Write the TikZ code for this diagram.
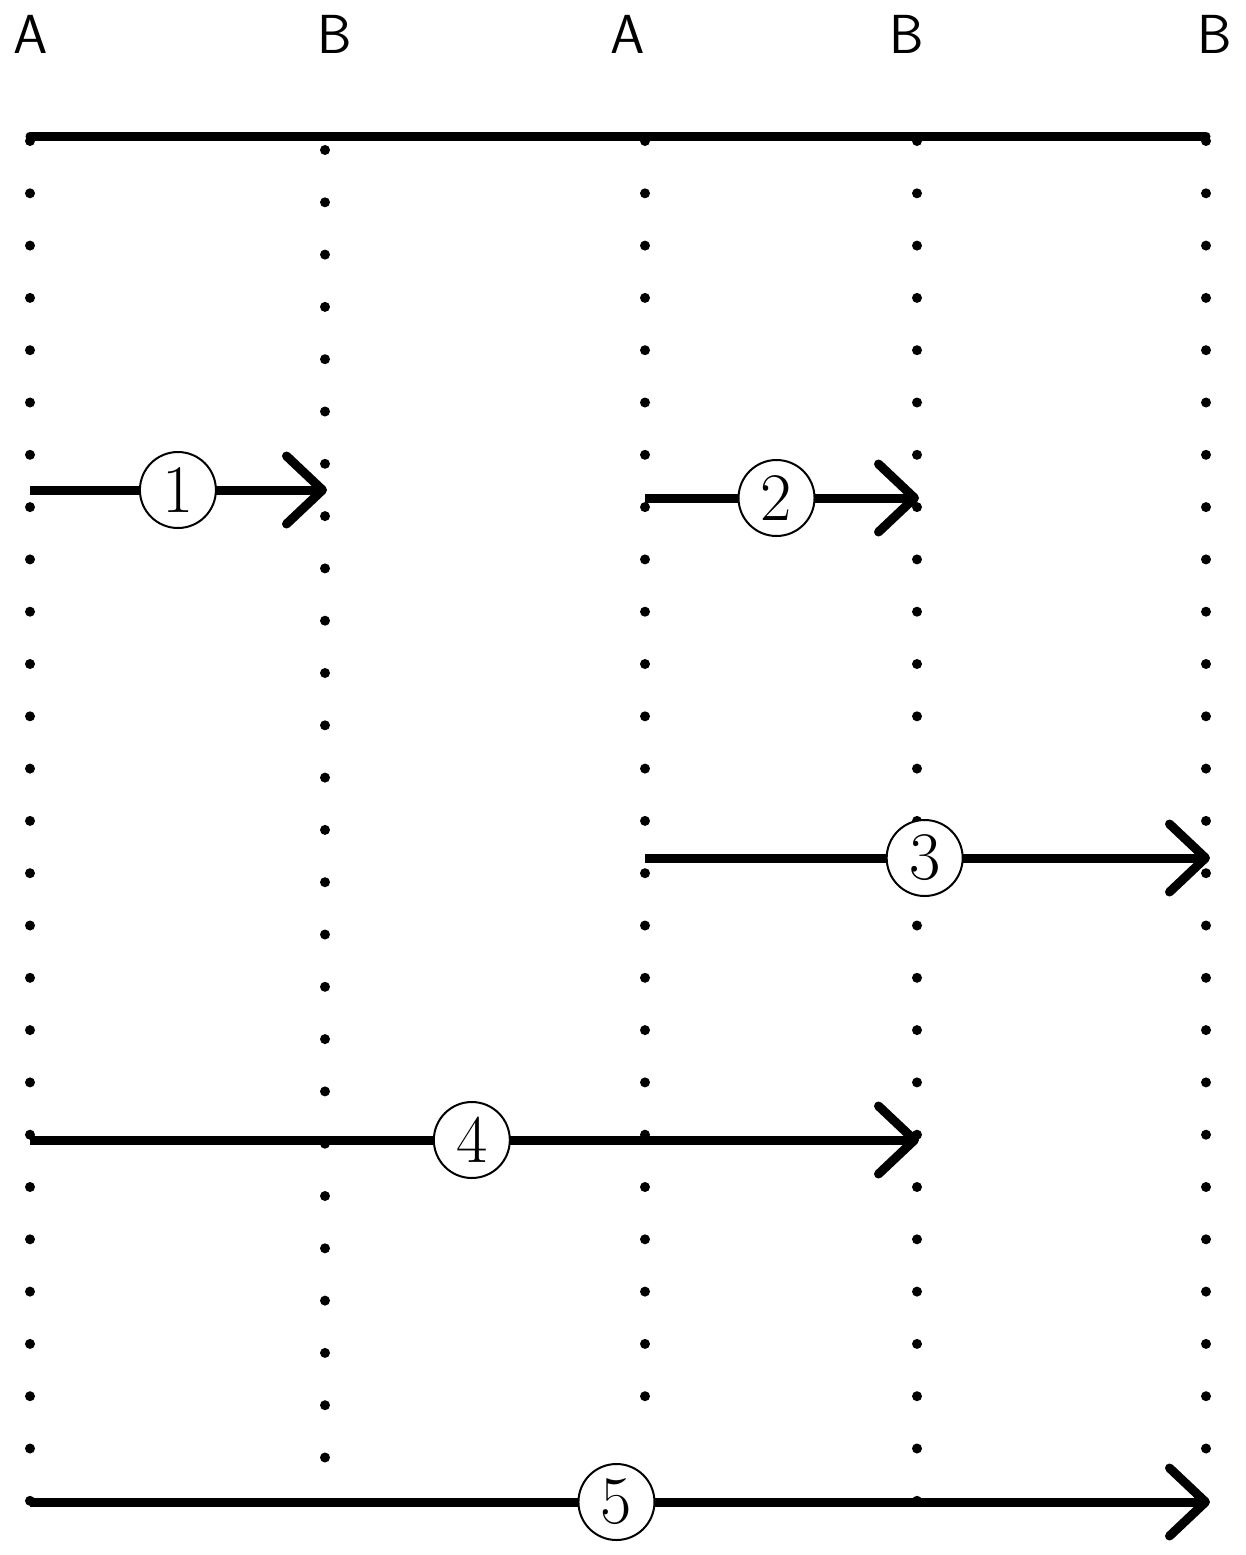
\documentclass[tikz,border=0pt]{standalone}
\usepackage{fontspec}
\usetikzlibrary{arrows.meta}
\begin{document}
\begin{tikzpicture}[x=1pt,y=-1pt,
  lab/.style={font=\sffamily\fontsize{55}{55}\selectfont, inner sep=0pt},
  num/.style={circle, draw, fill=white, line width=2pt, minimum size=76pt, inner sep=0pt,
              font=\fontsize{68}{68}\selectfont},
  heavy/.style={line width=9pt},
  arr/.style={heavy, -{Straight Barb[length=36pt,width=68pt,round]}},
  dotm/.style={fill=black}]
\useasboundingbox (0,0) rectangle (1245,1555);
% labels
\node[lab] (lA1) at (31,34) {A};
\node[lab] (lB1) at (335,34) {B};
\node[lab] (lA2) at (628,34) {A};
\node[lab] (lB2) at (907,34) {B};
\node[lab] (lB3) at (1215,34) {B};
% dotted columns
\foreach \i in {0,...,26} \fill[dotm] (30,141+52.3*\i) circle (5pt);
\foreach \i in {0,...,25} \fill[dotm] (325,150+52.3*\i) circle (5pt);
\foreach \i in {0,...,24} \fill[dotm] (645,141+52.3*\i) circle (5pt);
\foreach \i in {0,...,26} \fill[dotm] (917,141+52.3*\i) circle (5pt);
\foreach \i in {0,...,25} \fill[dotm] (1206,141+52.3*\i) circle (5pt);
% top bar
\coordinate (t0) at (30,136);
\coordinate (t1) at (1206,136);
\draw[heavy, line cap=round] (t0) -- (t1);
% arrow endpoints
\coordinate (s1) at (30,490);  \coordinate (e1) at (327,490);
\coordinate (s2) at (645,498); \coordinate (e2) at (919,498);
\coordinate (s3) at (645,858); \coordinate (e3) at (1210,858);
\coordinate (s4) at (30,1140); \coordinate (e4) at (919,1140);
\coordinate (s5) at (30,1502); \coordinate (e5) at (1210,1502);
\draw[arr] (s1) -- node[num, pos=0.498] (n1) {1} (e1);
\draw[arr] (s2) -- node[num, pos=0.48] (n2) {2} (e2);
\draw[arr] (s3) -- node[num, pos=0.495] (n3) {3} (e3);
\draw[arr] (s4) -- node[num, pos=0.497] (n4) {4} (e4);
\draw[arr] (s5) -- node[num, pos=0.497] (n5) {5} (e5);
\end{tikzpicture}
\end{document}
